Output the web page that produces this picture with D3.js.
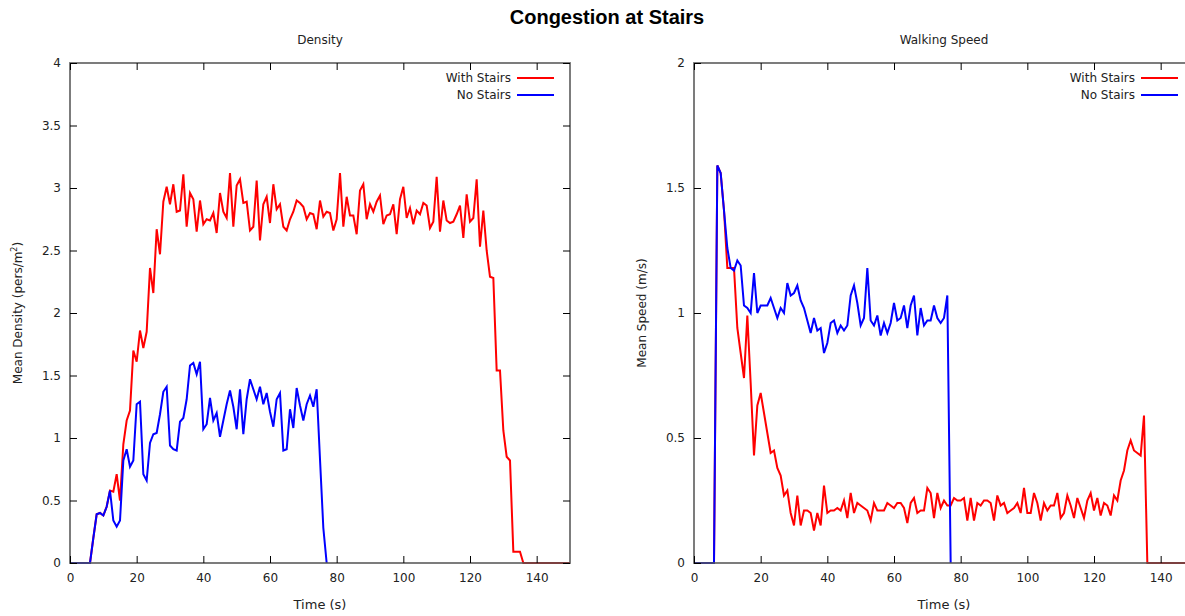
<!DOCTYPE html>
<html>
<head>
<meta charset="utf-8">
<script src="https://cdn.jsdelivr.net/npm/d3@7"></script>
<style>
  html, body { margin: 0; padding: 0; background: #fff; }
  text { font-family: "DejaVu Sans", Verdana, sans-serif; fill: #222; }
</style>
</head>
<body>
<svg id="chart" width="1185" height="616"></svg>
<script>
// ---------------- data ----------------
const chartTitle = "Congestion at Stairs";
const panelTitles = ["Density", "Walking Speed"];
const seriesNames = ["With Stairs", "No Stairs"];
const seriesColors = ["#ff0000", "#0000ff"];
const xTicks = [0, 20, 40, 60, 80, 100, 120, 140];
const densityTicks = [0, 0.5, 1, 1.5, 2, 2.5, 3, 3.5, 4];
const speedTicks = [0, 0.5, 1, 1.5, 2];

// Density, With Stairs: t = 0 .. 150 (1 s steps)
const densityWith = [
  0, 0, 0, 0, 0, 0, 0, 0.2, 0.39, 0.40, 0.38, 0.45,
  0.58, 0.57, 0.71, 0.50, 0.95, 1.14, 1.22, 1.70, 1.61, 1.86, 1.72, 1.85,
  2.36, 2.16, 2.67, 2.47, 2.89, 3.01, 2.87, 3.03, 2.81, 2.82, 3.11, 2.69,
  2.96, 2.91, 2.65, 2.90, 2.71, 2.75, 2.74, 2.80, 2.64, 2.96, 2.81, 2.76,
  3.12, 2.69, 3.02, 3.07, 2.88, 2.89, 2.66, 2.69, 3.06, 2.58, 2.87, 2.93,
  2.72, 3.03, 2.83, 2.87, 2.69, 2.66, 2.75, 2.81, 2.90, 2.88, 2.85, 2.75,
  2.80, 2.79, 2.67, 2.90, 2.77, 2.81, 2.80, 2.66, 2.75, 3.12, 2.69, 2.93,
  2.78, 2.78, 2.63, 2.98, 3.03, 2.75, 2.87, 2.81, 2.89, 2.94, 2.71, 2.78,
  2.79, 2.87, 2.63, 2.91, 3.01, 2.76, 2.84, 2.71, 2.82, 2.79, 2.88, 2.86,
  2.68, 2.73, 3.09, 2.65, 2.90, 2.74, 2.72, 2.73, 2.79, 2.86, 2.60, 2.95,
  2.73, 2.76, 3.07, 2.53, 2.82, 2.50, 2.29, 2.28, 1.54, 1.54, 1.06, 0.85,
  0.82, 0.09, 0.09, 0.09, 0, 0, 0, 0, 0, 0, 0, 0,
  0, 0, 0, 0, 0, 0, 0
];
// Density, No Stairs: t = 0 .. 77
const densityNo = [
  0, 0, 0, 0, 0, 0, 0, 0.2, 0.39, 0.40, 0.38, 0.45,
  0.58, 0.34, 0.29, 0.34, 0.82, 0.91, 0.77, 0.82, 1.27, 1.29, 0.71, 0.66,
  0.96, 1.03, 1.04, 1.19, 1.37, 1.41, 0.94, 0.91, 0.90, 1.13, 1.16, 1.31,
  1.58, 1.60, 1.51, 1.61, 1.07, 1.11, 1.32, 1.14, 1.20, 1.01, 1.14, 1.27,
  1.38, 1.25, 1.07, 1.39, 1.03, 1.31, 1.47, 1.39, 1.31, 1.41, 1.27, 1.36,
  1.21, 1.09, 1.31, 1.36, 0.90, 0.91, 1.23, 1.08, 1.40, 1.26, 1.14, 1.27,
  1.34, 1.25, 1.39, 0.83, 0.28, 0
];
// Speed, With Stairs: t = 0 .. 150
const speedWith = [
  0, 0, 0, 0, 0, 0, 0, 1.59, 1.56, 1.41, 1.18, 1.18,
  1.18, 0.94, 0.84, 0.74, 0.99, 0.72, 0.43, 0.63, 0.68, 0.60, 0.52, 0.44,
  0.45, 0.38, 0.35, 0.27, 0.29, 0.20, 0.15, 0.27, 0.15, 0.21, 0.21, 0.20,
  0.13, 0.20, 0.15, 0.31, 0.20, 0.21, 0.21, 0.22, 0.21, 0.25, 0.18, 0.28,
  0.20, 0.24, 0.23, 0.22, 0.21, 0.17, 0.24, 0.21, 0.21, 0.21, 0.24, 0.23,
  0.22, 0.24, 0.24, 0.22, 0.16, 0.24, 0.26, 0.20, 0.21, 0.21, 0.30, 0.28,
  0.18, 0.28, 0.22, 0.25, 0.23, 0.23, 0.26, 0.25, 0.25, 0.26, 0.17, 0.26,
  0.17, 0.24, 0.23, 0.25, 0.25, 0.24, 0.17, 0.27, 0.23, 0.24, 0.20, 0.21,
  0.22, 0.24, 0.20, 0.30, 0.20, 0.20, 0.28, 0.24, 0.17, 0.24, 0.21, 0.23,
  0.23, 0.28, 0.18, 0.20, 0.27, 0.23, 0.18, 0.26, 0.22, 0.18, 0.25, 0.28,
  0.21, 0.26, 0.19, 0.24, 0.23, 0.19, 0.27, 0.25, 0.33, 0.37, 0.45, 0.49,
  0.45, 0.44, 0.43, 0.59, 0, 0, 0, 0, 0, 0, 0, 0,
  0, 0, 0, 0, 0, 0, 0
];
// Speed, No Stairs: t = 0 .. 77
const speedNo = [
  0, 0, 0, 0, 0, 0, 0, 1.59, 1.56, 1.41, 1.26, 1.18,
  1.17, 1.21, 1.19, 1.03, 1.02, 1.00, 1.16, 1.00, 1.03, 1.03, 1.03, 1.06,
  1.02, 0.98, 1.02, 1.00, 1.12, 1.07, 1.08, 1.11, 1.05, 1.02, 0.97, 0.92,
  0.98, 0.93, 0.94, 0.84, 0.88, 0.96, 0.97, 0.92, 0.95, 0.93, 0.95, 1.07,
  1.11, 1.04, 0.95, 0.98, 1.18, 0.97, 0.95, 0.99, 0.91, 0.96, 0.92, 0.96,
  1.04, 0.97, 0.98, 1.03, 0.94, 1.03, 1.07, 0.91, 1.02, 0.95, 0.97, 0.97,
  1.03, 0.98, 0.96, 0.98, 1.07, 0
];

// ---------------- drawing ----------------
const svg = d3.select("#chart");
const frameColor = "#555555";

svg.append("text")
  .attr("x", 607).attr("y", 24)
  .attr("text-anchor", "middle")
  .style("font-family", "'Liberation Sans', Arial, sans-serif")
  .style("font-weight", "bold").style("font-size", "20px").style("fill", "#000")
  .text(chartTitle);

const panels = [
  { left: 70, title: panelTitles[0], yMax: 4, yTicks: densityTicks,
    data: [densityWith, densityNo], ylabel: "density" },
  { left: 694, title: panelTitles[1], yMax: 2, yTicks: speedTicks,
    data: [speedWith, speedNo], ylabel: "speed" }
];
const plotTop = 63, plotBottom = 563, plotW = 500;

panels.forEach((p) => {
  const x = d3.scaleLinear().domain([0, 150]).range([p.left, p.left + plotW]);
  const y = d3.scaleLinear().domain([0, p.yMax]).range([plotBottom, plotTop]);
  const g = svg.append("g");

  const line = d3.line().x((d, i) => x(i)).y(d => y(d));
  p.data.forEach((arr, k) => {
    g.append("path")
      .attr("d", line(arr))
      .attr("fill", "none")
      .attr("stroke", seriesColors[k])
      .attr("stroke-width", 2)
      .attr("stroke-linejoin", "miter");
  });

  // frame
  g.append("rect")
    .attr("x", p.left).attr("y", plotTop).attr("width", plotW).attr("height", plotBottom - plotTop)
    .attr("fill", "none").attr("stroke", frameColor).attr("stroke-width", 1.8)
    .attr("opacity", 0.85);

  const fmt = d => String(d);
  const bottomAxis = d3.axisBottom(x).tickValues(xTicks).tickSize(-7).tickPadding(10).tickFormat(fmt);
  const topAxis = d3.axisTop(x).tickValues(xTicks).tickSize(-7).tickFormat("");
  const leftAxis = d3.axisLeft(y).tickValues(p.yTicks).tickSize(-7).tickPadding(9).tickFormat(fmt);
  const rightAxis = d3.axisRight(y).tickValues(p.yTicks).tickSize(-7).tickFormat("");

  const styleAxis = (sel) => {
    sel.select(".domain").remove();
    sel.selectAll(".tick line").attr("stroke", "#000").attr("stroke-width", 1);
    sel.selectAll(".tick text").style("font-size", "12px").style("fill", "#222")
      .style("font-family", "'DejaVu Sans', Verdana, sans-serif");
  };
  g.append("g").attr("transform", `translate(0,${plotBottom})`).call(bottomAxis).call(styleAxis);
  g.append("g").attr("transform", `translate(0,${plotTop})`).call(topAxis).call(styleAxis);
  g.append("g").attr("transform", `translate(${p.left},0)`).call(leftAxis).call(styleAxis);
  g.append("g").attr("transform", `translate(${p.left + plotW},0)`).call(rightAxis).call(styleAxis);

  g.append("text").attr("x", p.left + plotW / 2).attr("y", 44).attr("text-anchor", "middle")
    .style("font-size", "12px").text(p.title);
  g.append("text").attr("x", p.left + plotW / 2).attr("y", 609).attr("text-anchor", "middle")
    .style("font-size", "13px").text("Time (s)");
  const yl = g.append("text")
    .attr("transform", `translate(${p.left - 48},${(plotTop + plotBottom) / 2}) rotate(-90)`)
    .attr("text-anchor", "middle").style("font-size", "12px");
  if (p.ylabel === "density") {
    yl.append("tspan").text("Mean Density (pers/m");
    yl.append("tspan").attr("dy", -5).style("font-size", "8px").text("2");
    yl.append("tspan").attr("dy", 5).text(")");
  } else {
    yl.text("Mean Speed (m/s)");
  }

  seriesNames.forEach((name, k) => {
    const ly = 78 + k * 17;
    g.append("text").attr("x", p.left + 441).attr("y", ly + 4).attr("text-anchor", "end")
      .style("font-size", "12px").text(name);
    g.append("line")
      .attr("x1", p.left + 447).attr("x2", p.left + 484)
      .attr("y1", ly).attr("y2", ly)
      .attr("stroke", seriesColors[k]).attr("stroke-width", 2);
  });
});
</script>
</body>
</html>
